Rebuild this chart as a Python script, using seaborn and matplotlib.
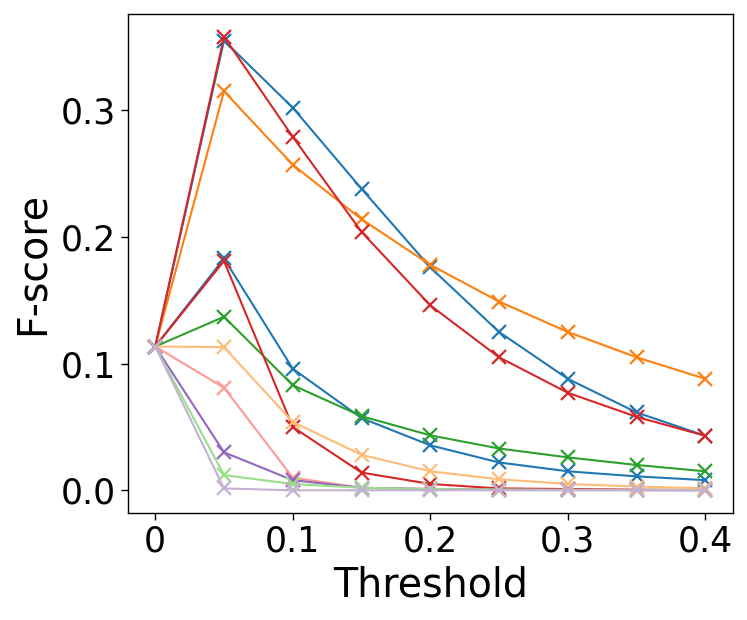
import matplotlib
matplotlib.use("Agg")
import matplotlib.pyplot as plt
import seaborn as sns
import pandas as pd

thresholds = [0, 0.05, 0.1, 0.15, 0.2, 0.25, 0.3, 0.35, 0.4]

blue_a = [0.1135, 0.355, 0.302, 0.238, 0.176, 0.125, 0.088, 0.0615, 0.043]
orange_a = [0.1135, 0.315, 0.257, 0.214, 0.178, 0.149, 0.125, 0.105, 0.088]
red_a = [0.1135, 0.358, 0.279, 0.204, 0.146, 0.105, 0.077, 0.058, 0.043]
blue_b = [0.1135, 0.183, 0.096, 0.057, 0.0355, 0.022, 0.015, 0.011, 0.008]
green_a = [0.1135, 0.137, 0.083, 0.0585, 0.0434, 0.033, 0.026, 0.020, 0.015]
red_b = [0.1135, 0.181, 0.050, 0.014, 0.005, 0.0015, 0.001, 0.0005, 0.0003]
orange_b = [0.1135, 0.113, 0.054, 0.028, 0.015, 0.0087, 0.005, 0.003, 0.0016]
pink = [0.1135, 0.081, 0.010, 0.002, 0.001, 0.0005, 0.0003, 0.0002, 0.0001]
purple = [0.1135, 0.030, 0.008, 0.002, 0.001, 0.0005, 0.0003, 0.0002, 0.0001]
green_b = [0.1135, 0.012, 0.005, 0.002, 0.001, 0.0005, 0.0003, 0.0002, 0.0001]
purple_b = [0.1135, 0.0015, 0.0, 0.0, 0.0, 0.0, 0.0, 0.0, 0.0]

series = [
    (blue_a, "#1f77b4"),
    (orange_a, "#ff7f0e"),
    (red_a, "#d62728"),
    (blue_b, "#1f77b4"),
    (green_a, "#2ca02c"),
    (red_b, "#d62728"),
    (orange_b, "#ffbb78"),
    (pink, "#ff9896"),
    (purple, "#9467bd"),
    (green_b, "#98df8a"),
    (purple_b, "#c5b0d5"),
]

sns.set_style("ticks")
plt.rcParams['font.family'] = ['DejaVu Sans']
plt.rcParams['text.color'] = 'black'
plt.rcParams['axes.labelcolor'] = 'black'
plt.rcParams['xtick.color'] = 'black'
plt.rcParams['ytick.color'] = 'black'

fig = plt.figure(figsize=(7.47, 6.2), dpi=100)
ax = fig.add_axes([0.171, 0.1726, 0.81, 0.8047])

for vals, color in series:
    df = pd.DataFrame({"Threshold": thresholds, "F-score": vals})
    sns.lineplot(data=df, x="Threshold", y="F-score", color=color, marker="x",
                 markersize=10, markeredgewidth=1.6, linewidth=1.5,
                 markeredgecolor=color, ax=ax)

ax.set_xticks([0, 0.1, 0.2, 0.3, 0.4])
ax.set_xticklabels(["0", "0.1", "0.2", "0.3", "0.4"])
ax.set_yticks([0.0, 0.1, 0.2, 0.3])
ax.tick_params(labelsize=25, length=5, width=1, colors="black")
ax.set_xlabel("Threshold", fontsize=28.5, labelpad=5)
ax.set_ylabel("F-score", fontsize=28.5, labelpad=6)
for s in ax.spines.values():
    s.set_color("black")
    s.set_linewidth(1)

fig.savefig("out.png", dpi=100)
